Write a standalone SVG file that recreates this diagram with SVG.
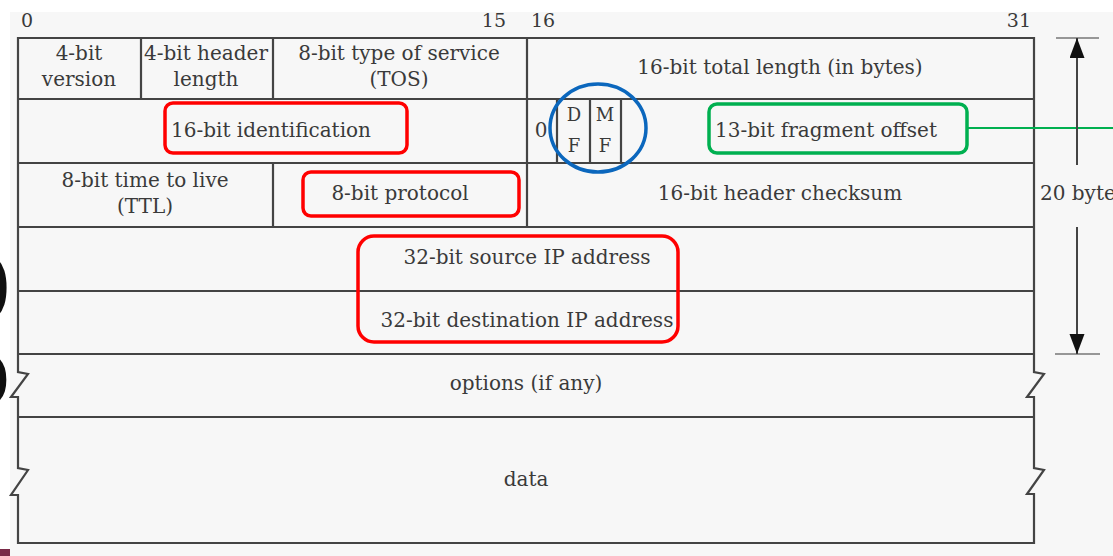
<svg xmlns="http://www.w3.org/2000/svg" width="1113" height="556" viewBox="0 0 1113 556">
<defs>
<style>
.t{font-family:"DejaVu Serif","Liberation Serif",serif;font-size:20px;fill:#3a3a3a;text-anchor:middle}
.s{font-size:19px}
.f{font-size:18px}
.ln{stroke:#444;stroke-width:2.2;fill:none}
.red{fill:none;stroke:#ff0000;stroke-width:3.5}
.tick{stroke:#777;stroke-width:1.5}
</style>
<marker id="ah" markerUnits="userSpaceOnUse" markerWidth="20" markerHeight="16" refX="20" refY="7.5" orient="auto">
<path d="M0,0 L20,7.5 L0,15 z" fill="#111"/>
</marker>
</defs>
<rect x="0" y="0" width="1113" height="556" fill="#ffffff"/>
<rect x="10" y="12" width="1103" height="544" fill="#f7f7f7"/>
<rect x="0" y="549" width="10" height="7" fill="#7a2a48"/>
<text x="-18" y="308" style="font-family:'Liberation Serif',serif;font-size:85px;fill:#111">)</text>
<text x="-11" y="394" style="font-family:'Liberation Serif',serif;font-size:60px;font-weight:bold;fill:#111">)</text>

<g id="bits">
<text class="t s" x="21" y="27" style="text-anchor:start">0</text>
<text class="t s" x="506" y="27" style="text-anchor:end">15</text>
<text class="t s" x="531" y="27" style="text-anchor:start">16</text>
<text class="t s" x="1031" y="27" style="text-anchor:end">31</text>
</g>

<g id="frame">
<path class="ln" d="M18,38 H1034 V372 L1044,374 L1027,397 H1034 V468 L1044,470 L1027,494 H1034 V543 H18 V495 H11 L28,470 L18,468 V397 H11 L28,374 L18,372 Z"/>
<path class="ln" d="M18,99 H1034 M18,163 H1034 M18,227 H1034 M18,291 H1034 M18,354 H1034 M18,417 H1034"/>
<path class="ln" d="M141,38 V99 M273,38 V99 M273,163 V227 M527,38 V227 M557,99 V163 M590,99 V163 M621,99 V163"/>
</g>

<g id="version"><text class="t" x="79" y="60">4-bit</text><text class="t" x="79" y="86">version</text></g>
<g id="hlen"><text class="t" x="206" y="60">4-bit header</text><text class="t" x="206" y="86">length</text></g>
<g id="tos"><text class="t" x="399" y="60">8-bit type of service</text><text class="t" x="399" y="86">(TOS)</text></g>
<g id="totlen"><text class="t" x="780" y="74">16-bit total length (in bytes)</text></g>

<g id="ident"><rect class="red" x="165" y="103" width="242" height="50" rx="8"/><text class="t" x="271" y="137">16-bit identification</text></g>
<g id="flags">
<text class="t" x="541" y="137">0</text>
<text class="t f" x="574" y="121">D</text><text class="t f" x="574" y="152">F</text>
<text class="t f" x="605" y="121">M</text><text class="t f" x="605" y="152">F</text>
<ellipse cx="598" cy="128" rx="48" ry="44" fill="none" stroke="#0b67bd" stroke-width="3.5"/>
</g>
<g id="fragoff"><rect x="709" y="104" width="258" height="49" rx="8" fill="none" stroke="#00b050" stroke-width="3.5"/><text class="t" x="826" y="137">13-bit fragment offset</text></g>

<g id="ttl"><text class="t" x="145" y="187">8-bit time to live</text><text class="t" x="145" y="213">(TTL)</text></g>
<g id="proto"><rect class="red" x="303" y="172" width="216" height="44" rx="8"/><text class="t" x="400" y="200">8-bit protocol</text></g>
<g id="cksum"><text class="t" x="780" y="200">16-bit header checksum</text></g>

<g id="addrs">
<rect class="red" x="358" y="236" width="320" height="106" rx="16"/>
<text class="t" x="527" y="264">32-bit source IP address</text>
<text class="t" x="527" y="327">32-bit destination IP address</text>
</g>
<g id="options"><text class="t" x="526" y="390">options (if any)</text></g>
<g id="data"><text class="t" x="526" y="486">data</text></g>

<g id="connectors">
<line x1="967" y1="128" x2="1113" y2="128" stroke="#00b050" stroke-width="2"/>
<line class="tick" x1="1056" y1="38" x2="1099" y2="38"/>
<line class="tick" x1="1055" y1="354" x2="1100" y2="354"/>
<line x1="1077" y1="165" x2="1077" y2="38" stroke="#444" stroke-width="2" marker-end="url(#ah)"/>
<line x1="1077" y1="227" x2="1077" y2="354" stroke="#444" stroke-width="2" marker-end="url(#ah)"/>
<text class="t" x="1040" y="200" style="text-anchor:start">20 bytes</text>
</g>
</svg>
